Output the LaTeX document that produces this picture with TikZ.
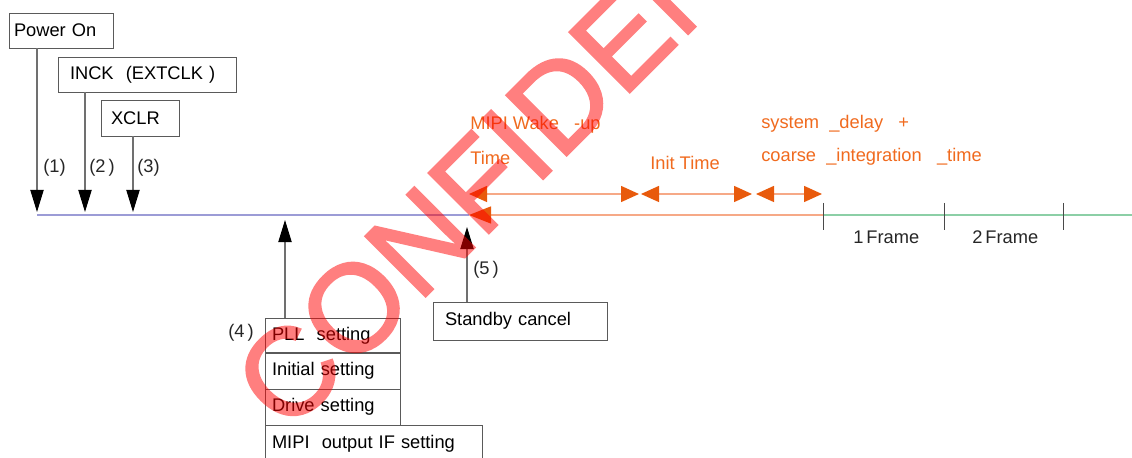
\documentclass[tikz,border=0pt]{standalone}
\usepackage{fontspec}
\setmainfont{Liberation Sans}
\newfontfamily\wmfont[FakeBold=1.8]{Liberation Sans}
\usetikzlibrary{arrows.meta, positioning, calc}
\definecolor{boxgray}{HTML}{5A5A5A}
\definecolor{stemgray}{HTML}{707070}
\definecolor{tlblue}{HTML}{9C9CD6}
\definecolor{tlorange}{HTML}{F6A987}
\definecolor{tlgreen}{HTML}{8CCFA6}
\definecolor{txtorange}{HTML}{F06A1E}
\definecolor{tiporange}{HTML}{E85A0C}
\definecolor{tickgray}{HTML}{4A4A4A}

\begin{document}
\begin{tikzpicture}[
  x=0.025cm, y=-0.025cm,
  font=\fontsize{13}{15}\selectfont,
  sbox/.style={draw=boxgray, line width=0.6pt, anchor=north west, align=left,
    inner ysep=0pt, minimum height=0.875cm, outer sep=0pt},
  sig/.style={stemgray, line width=0.9pt,
    -{Triangle[length=0.55cm, width=0.33cm, color=black]}},
  span/.style={tlorange, line width=1pt,
    {Triangle[length=0.45cm, width=0.4cm, color=tiporange]}-{Triangle[length=0.45cm, width=0.4cm, color=tiporange]}},
  olbl/.style={text=txtorange, anchor=west, inner sep=0pt},
  klbl/.style={text=black!85, anchor=west, inner sep=0pt},
]

\useasboundingbox (0,0) rectangle (1132,458);

% === Trigger boxes (top left) ===
\node[sbox, text width=2.35cm, inner xsep=0.125cm] (pwr) at (9,13) {Power On};
\node[sbox, text width=3.85cm, inner xsep=0.3cm] (inck) at (58,57) {INCK\ \ (EXTCLK\ )};
\node[sbox, text width=1.45cm, inner xsep=0.25cm, minimum height=0.9cm] (xclr) at (101,100) {XCLR};

% === Register setting stack ===
\node[sbox, text width=3.025cm, inner xsep=0.175cm] (pll) at (265,318) {PLL\ \ setting};
\node[sbox, text width=3.025cm, inner xsep=0.175cm, minimum height=0.9cm] (init) at (pll.south west) {Initial setting};
\node[sbox, text width=3.025cm, inner xsep=0.175cm, minimum height=0.9cm] (drv) at (init.south west) {Drive setting};
\node[sbox, text width=5.075cm, inner xsep=0.175cm, minimum height=0.925cm] (mipi) at (drv.south west) {MIPI\ \ output\ IF setting};
\draw[boxgray, line width=1.2pt] (pll.south west) -- (pll.south east);

% Standby cancel
\node[sbox, text width=3.75cm, inner xsep=0.3cm, minimum height=0.95cm] (stby) at (433,302) {Standby cancel};

% === Time line ===
\coordinate (t0) at (37,215);
\coordinate (wake) at (469,215);
\coordinate (f0) at (823,215);
\coordinate (f1) at (944,215);
\coordinate (f2) at (1063,215);
\coordinate (tend) at (1132,215);

\draw[tlblue, line width=1.5pt] (t0) -- (wake);
\draw[tlgreen, line width=1.5pt] (f0) -- (tend);
\draw[tlorange, line width=1.5pt, -{Triangle[length=0.55cm, width=0.42cm, color=tiporange]}] (f0) -- (wake);

\foreach \f in {f0,f1,f2} {
  \draw[tickgray, line width=0.7pt] ($(\f)+(0,-12)$) -- ($(\f)+(0,15)$);
}

\node[klbl] (fr1) at (853,237) {1\,Frame};
\node[klbl] (fr2) at (972,237) {2\,Frame};

% === Signal arrows ===
\coordinate (a1) at (37,212);
\coordinate (a2) at (85,212);
\coordinate (a3) at (133,212);
\coordinate (a4) at (285,220);
\coordinate (a5) at (467,227);

\draw[sig] (pwr.south -| a1) -- (a1);
\draw[sig] (inck.south -| a2) -- (a2);
\draw[sig] (xclr.south -| a3) -- (a3);
\draw[sig] (pll.north -| a4) -- (a4);
\draw[sig] (stby.north -| a5) -- (a5);

\node[klbl] (n1) at (43,168) {(1)};
\node[klbl] (n2) at (89,168) {(2\,)};
\node[klbl] (n3) at (137,168) {(3)};
\node[klbl] (n4) at (228,333) {(4\,)};
\node[klbl] (n5) at (473,270) {(5\,)};

% === Start-up intervals ===
\coordinate (s0) at (469,194);
\coordinate (s1) at (639,194);
\coordinate (s2) at (641,194);
\coordinate (s3) at (752,194);
\coordinate (s4) at (756,194);
\coordinate (s5) at (822,194);

\draw[span] (s0) -- (s1);
\draw[span] (s2) -- (s3);
\draw[span] (s4) -- (s5);

\node[olbl] (wk1) at (470,125) {MIPI Wake\ \ \ -up};
\node[olbl] (wk2) at (470,158) {Time};
\node[olbl] (it) at (650,163) {Init Time};
\node[olbl] (sd1) at (761,124) {system\ \ \_delay\ \ \ +};
\node[olbl] (sd2) at (761,157) {coarse\ \ \_integration\ \ \ \_time};

% === Watermark ===
\begin{scope}[transparency group, opacity=0.5]
\node[anchor=base west, rotate=45, inner sep=0pt, text=red,
  font=\wmfont\fontsize{88}{88}\selectfont] (wm) at (287,435) {CONFIDENTIAL};
\end{scope}

\end{tikzpicture}
\end{document}
